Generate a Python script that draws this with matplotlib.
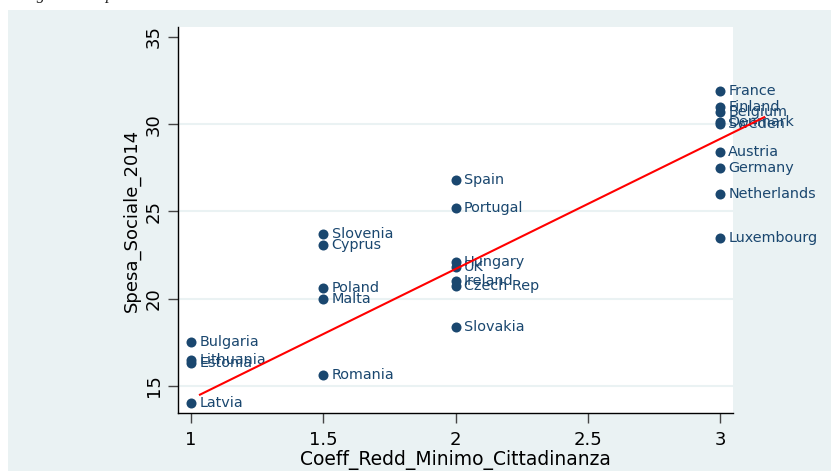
import matplotlib
matplotlib.use("Agg")
import matplotlib.pyplot as plt
from matplotlib.patches import Rectangle

# ---- data ----
countries = ["France", "Finland", "Belgium", "Denmark", "Sweden", "Austria", "Germany",
             "Netherlands", "Luxembourg",
             "Spain", "Portugal", "Hungary", "UK", "Ireland", "Czech Rep", "Slovakia",
             "Slovenia", "Cyprus", "Poland", "Malta", "Romania",
             "Bulgaria", "Lithuania", "Estonia", "Latvia"]
coeff = [3, 3, 3, 3, 3, 3, 3, 3, 3,
         2, 2, 2, 2, 2, 2, 2,
         1.5, 1.5, 1.5, 1.5, 1.5,
         1, 1, 1, 1]
spesa = [31.9, 31.0, 30.7, 30.1, 30.0, 28.4, 27.5, 26.0, 23.5,
         26.8, 25.2, 22.1, 21.8, 21.0, 20.7, 18.4,
         23.7, 23.1, 20.6, 20.0, 15.6,
         17.5, 16.5, 16.3, 14.0]
fit_x = [1.034, 3.167]
fit_y = [14.5, 30.4]
x_ticks = [1, 1.5, 2, 2.5, 3]
x_tick_labels = ["1", "1.5", "2", "2.5", "3"]
y_ticks = [15, 20, 25, 30, 35]
y_tick_labels = ["15", "20", "25", "30", "35"]
x_label = "Coeff_Redd_Minimo_Cittadinanza"
y_label = "Spesa_Sociale_2014"
caption = "Figura 3 \u2013 Spesa sociale e Reddito Minimo di Cittadinanza"

W, H = 831, 471
bg = "#EAF2F3"
navy = "#1A476F"

fig = plt.figure(figsize=(W / 100, H / 100), dpi=100, facecolor="white")
bgrect = Rectangle((8 / W, 0), 1 - 8 / W, 1 - 10 / H, transform=fig.transFigure,
                   facecolor=bg, edgecolor="none", zorder=-10)
fig.add_artist(bgrect)
fig.text(22 / W, 1 + 1 / H, caption, family="Liberation Serif", style="italic",
         fontsize=12, color="#222222", va="baseline", ha="left")

ax = fig.add_axes([178 / W, (H - 413) / H, 555 / W, 386 / H])
ax.set_zorder(5)
ax.set_facecolor("white")
ax.set_xlim(0.951, 3.049)
ax.set_ylim(13.45, 35.57)

for yv in y_ticks[:-1]:
    ax.axhline(yv, color=bg, lw=1.5, zorder=1)

ax.scatter(coeff, spesa, s=52, color=navy, zorder=3, clip_on=False, linewidths=0)
for name, xv, yv in zip(countries, coeff, spesa):
    ax.annotate(name, (xv, yv), xytext=(6, 0), textcoords="offset points",
                va="center", ha="left", color=navy, fontsize=10.4,
                family="DejaVu Sans", annotation_clip=False, zorder=4)

ax.plot(fit_x, fit_y, color="#FF0000", lw=1.5, zorder=5, clip_on=False)

for s in ["top", "right"]:
    ax.spines[s].set_visible(False)
for s in ["left", "bottom"]:
    ax.spines[s].set_color("black")
    ax.spines[s].set_linewidth(1.0)

ax.set_xticks(x_ticks)
ax.set_xticklabels(x_tick_labels)
ax.set_yticks(y_ticks)
ax.set_yticklabels(y_tick_labels, rotation=90, va="center")
ax.tick_params(axis="both", direction="out", length=7, width=1, color="#444444",
               labelsize=13, labelcolor="black")
ax.tick_params(axis="x", pad=6)
ax.tick_params(axis="y", pad=4)

ax.set_xlabel(x_label, fontsize=13.5, labelpad=1, family="DejaVu Sans")
ax.set_ylabel(y_label, fontsize=13, labelpad=3, family="DejaVu Sans")

fig.savefig("out.png", dpi=100, facecolor=fig.get_facecolor())
